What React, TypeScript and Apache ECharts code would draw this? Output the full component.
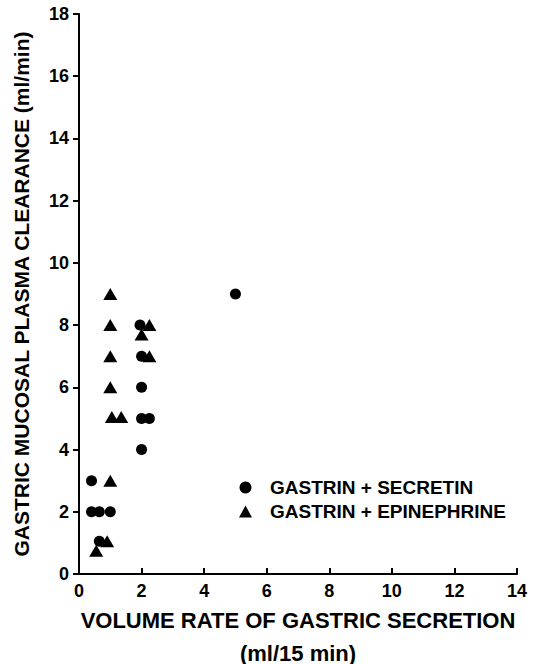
import React, { useEffect, useRef } from "react";
import * as echarts from "echarts";

const xTicks = [0, 2, 4, 6, 8, 10, 12, 14];
const yTicks = [0, 2, 4, 6, 8, 10, 12, 14, 16, 18];

const secretinSeries = "GASTRIN + SECRETIN";
const epinephrineSeries = "GASTRIN + EPINEPHRINE";

// [volume rate (ml/15 min), clearance (ml/min)]
const secretinPoints: [number, number][] = [
  [0.4, 3],
  [0.4, 2],
  [0.65, 2],
  [1.0, 2],
  [0.65, 1.05],
  [1.95, 8],
  [2.0, 7],
  [2.0, 6],
  [2.0, 5],
  [2.25, 5],
  [2.0, 4],
  [5.0, 9],
];

const epinephrinePoints: [number, number][] = [
  [1.0, 9],
  [1.0, 8],
  [1.0, 7],
  [1.0, 6],
  [1.05, 5.05],
  [1.35, 5.05],
  [1.0, 3],
  [0.55, 0.75],
  [0.9, 1.05],
  [2.0, 7.7],
  [2.25, 8],
  [2.25, 7],
];

const FONT = "Liberation Sans";

export default function App() {
  const ref = useRef<HTMLDivElement>(null);

  useEffect(() => {
    if (!ref.current) return;
    const chart = echarts.init(ref.current, null, { renderer: "svg" });
    chart.setOption({
      animation: false,
      backgroundColor: "#ffffff",
      textStyle: { fontFamily: FONT, color: "#000" },
      grid: {
        left: 79,
        right: 16,
        top: 14,
        bottom: 90,
        containLabel: false,
        outerBoundsMode: "none",
      },
      legend: {
        orient: "vertical",
        left: 234,
        top: 473,
        itemWidth: 13,
        itemHeight: 12,
        itemGap: 5,
        data: [
          { name: secretinSeries, icon: "circle" },
          { name: epinephrineSeries, icon: "triangle" },
        ],
        itemStyle: { color: "#000", opacity: 1 },
        textStyle: {
          fontFamily: FONT,
          fontWeight: "bold",
          fontSize: 19,
          color: "#000",
          padding: [0, 0, 0, 13],
        },
      },
      xAxis: {
        type: "value",
        min: xTicks[0],
        max: xTicks[xTicks.length - 1],
        interval: 2,
        splitLine: { show: false },
        axisLine: { show: true, lineStyle: { color: "#000", width: 2 } },
        axisTick: { show: true, inside: true, length: 6, lineStyle: { color: "#000", width: 2 } },
        axisLabel: {
          color: "#000",
          fontFamily: FONT,
          fontWeight: "bold",
          fontSize: 18,
          margin: 8,
        },
        name: "{a|VOLUME RATE OF GASTRIC SECRETION}\n{b|(ml/15 min)}",
        nameLocation: "middle",
        nameGap: 23,
        nameTextStyle: {
          color: "#000",
          fontFamily: FONT,
          fontWeight: "bold",
          fontSize: 22,
          rich: {
            a: {
              color: "#000",
              fontFamily: FONT,
              fontWeight: "bold",
              fontSize: 22,
              lineHeight: 46,
            },
            b: {
              color: "#000",
              fontFamily: FONT,
              fontWeight: "bold",
              fontSize: 22,
              lineHeight: 20,
            },
          },
        },
      },
      yAxis: {
        type: "value",
        min: yTicks[0],
        max: yTicks[yTicks.length - 1],
        interval: 2,
        splitLine: { show: false },
        axisLine: { show: true, lineStyle: { color: "#000", width: 2 } },
        axisTick: { show: true, inside: false, length: 6, lineStyle: { color: "#000", width: 2 } },
        axisLabel: {
          color: "#000",
          fontFamily: FONT,
          fontWeight: "bold",
          fontSize: 18,
          margin: 10,
        },
        name: "GASTRIC MUCOSAL PLASMA CLEARANCE (ml/min)",
        nameLocation: "middle",
        nameRotate: 90,
        nameGap: 47,
        nameTextStyle: {
          color: "#000",
          fontFamily: FONT,
          fontWeight: "bold",
          fontSize: 21,
        },
      },
      series: [
        {
          name: secretinSeries,
          type: "scatter",
          symbol: "circle",
          symbolSize: 11,
          itemStyle: { color: "#000", opacity: 1 },
          data: secretinPoints,
        },
        {
          name: epinephrineSeries,
          type: "scatter",
          symbol: "triangle",
          symbolSize: [14, 12],
          itemStyle: { color: "#000", opacity: 1 },
          data: epinephrinePoints,
        },
      ],
    });
    return () => chart.dispose();
  }, []);

  return (
    <div
      ref={ref}
      style={{ position: "fixed", left: 0, top: 0, width: 533, height: 664, background: "#fff" }}
    />
  );
}
